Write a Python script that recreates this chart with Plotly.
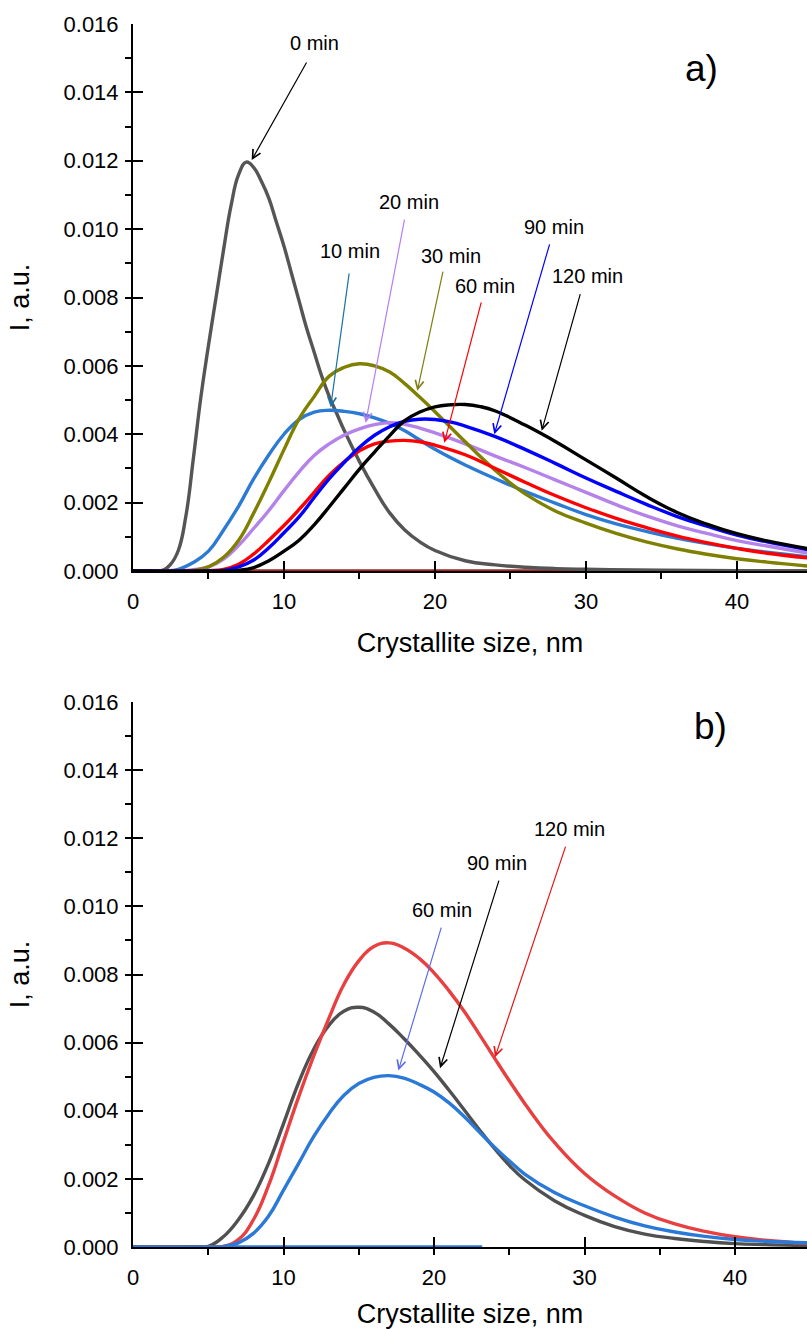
import plotly.graph_objects as go

# ---------------- data: panel a) ----------------
x_a0 = [0, 1, 2, 2.5, 3, 3.5, 4, 4.5, 5, 5.5, 6, 6.5, 7, 7.5, 8, 8.5, 9, 9.5, 10, 10.5, 11, 11.5, 12, 12.5, 13,
        13.5, 14, 15, 16, 17, 18, 19, 20, 22, 24, 26, 28, 30, 35, 40, 45]
y_a0 = [0, 0, 0.00003, 0.0002, 0.0006, 0.0016, 0.0033, 0.0051, 0.0066, 0.0080, 0.0094, 0.0107, 0.0116, 0.01196,
        0.0118, 0.0114, 0.0109, 0.0102, 0.0095, 0.0087, 0.0079, 0.0071, 0.0064, 0.0057, 0.0051,
        0.0046, 0.0041, 0.0032, 0.0024, 0.0017, 0.0012, 0.00085, 0.0006, 0.0003, 0.00018, 0.00011, 0.00007,
        0.00005, 0.00002, 0.00001, 0]

x_a10 = [0, 2, 3, 4, 5, 6, 7, 8, 9, 10, 11, 12, 13, 14, 15, 16, 17, 18, 19, 20, 22, 24, 26, 28, 30, 32, 34, 36,
         38, 40, 42, 45]
y_a10 = [0, 0, 0.00005, 0.00025, 0.00058, 0.0012, 0.0019, 0.0027, 0.0034, 0.0040, 0.00443, 0.00465, 0.0047,
         0.00467, 0.0046, 0.00448, 0.00432, 0.0041, 0.00383, 0.00356, 0.0031, 0.0027, 0.00232, 0.00198,
         0.00165, 0.00138, 0.00116, 0.00096, 0.0008, 0.00066, 0.00055, 0.0004]

x_a20 = [0, 3, 4, 5, 6, 7, 8, 9, 10, 11, 12, 13, 14, 15, 16, 17, 18, 19, 20, 22, 24, 26, 28, 30, 32, 34, 36, 38,
         40, 42, 45]
y_a20 = [0, 0, 0.00004, 0.00012, 0.00035, 0.00075, 0.00125, 0.00177, 0.00235, 0.0029, 0.00338, 0.00372,
         0.00398, 0.00416, 0.00428, 0.00434, 0.00429, 0.00418, 0.00404, 0.00372, 0.00336, 0.00302, 0.00266,
         0.0023, 0.00194, 0.00161, 0.00133, 0.0011, 0.00089, 0.00073, 0.0005]

x_a30 = [0, 3, 4, 5, 6, 7, 8, 9, 10, 11, 12, 13, 14, 15, 16, 17, 18, 19, 20, 21, 22, 23, 24, 25, 26, 28, 30, 32,
         34, 36, 38, 40, 42, 45]
y_a30 = [0, 0, 0.00002, 0.00012, 0.0004, 0.0009, 0.0017, 0.0026, 0.00355, 0.00445, 0.0051, 0.0057, 0.00596,
         0.00606, 0.006, 0.00582, 0.00548, 0.00508, 0.00466, 0.00422, 0.00378, 0.00335, 0.00294, 0.00257,
         0.00225, 0.00175, 0.0014, 0.0011, 0.00085, 0.00065, 0.00049, 0.00036, 0.00026, 0.00013]

x_a60 = [0, 4, 5, 6, 7, 8, 9, 10, 11, 12, 13, 14, 15, 16, 17, 18, 19, 20, 22, 24, 26, 28, 30, 32, 34, 36, 38, 40,
         42, 45]
y_a60 = [0, 0, 0.00001, 0.00005, 0.0002, 0.0005, 0.0009, 0.00133, 0.0018, 0.0023, 0.0028, 0.0032, 0.00352,
         0.00372, 0.0038, 0.00382, 0.00378, 0.00368, 0.0034, 0.003, 0.00259, 0.0022, 0.00185, 0.00154,
         0.00127, 0.00103, 0.00083, 0.00066, 0.00052, 0.00037]

x_a90 = [0, 5, 6, 7, 8, 9, 10, 11, 12, 13, 14, 15, 16, 17, 18, 19, 20, 21, 22, 24, 26, 28, 30, 32, 34, 36, 38,
         40, 42, 45]
y_a90 = [0, 0, 0.00002, 0.00012, 0.00032, 0.00068, 0.00112, 0.00158, 0.00215, 0.0027, 0.00318, 0.00362,
         0.00397, 0.00422, 0.00438, 0.00444, 0.00443, 0.00436, 0.00424, 0.00393, 0.00355, 0.00314, 0.00272,
         0.00233, 0.00195, 0.0016, 0.00131, 0.00105, 0.00085, 0.0006]

x_a120 = [0, 6, 7, 8, 9, 10, 11, 12, 13, 14, 15, 16, 17, 18, 19, 20, 21, 22, 23, 24, 26, 28, 30, 32, 34, 36, 38,
          40, 42, 45]
y_a120 = [0, 0, 0.00002, 0.0001, 0.0003, 0.00058, 0.0009, 0.00135, 0.00188, 0.00243, 0.00298, 0.00348,
          0.00396, 0.0044, 0.00465, 0.0048, 0.00486, 0.00487, 0.00481, 0.00468, 0.00426, 0.00378, 0.00325,
          0.00272, 0.00218, 0.00172, 0.00137, 0.00109, 0.00088, 0.00063]

x_a_base = [0.7, 45]
y_a_base = [0, 0]

# ---------------- data: panel b) ----------------
x_b60 = [0, 5, 6, 7, 8, 9, 10, 11, 12, 13, 14, 15, 16, 17, 18, 19, 20, 21, 22, 23, 24, 25, 26, 28, 30, 32, 34,
         36, 38, 40, 42, 45]
y_b60 = [0, 0, 0.00001, 0.00012, 0.0004, 0.0009, 0.00167, 0.00245, 0.00324, 0.0039, 0.00445, 0.0048, 0.00498,
         0.00503, 0.00496, 0.00478, 0.00455, 0.00423, 0.00383, 0.00338, 0.00294, 0.00253, 0.00215, 0.0016,
         0.00121, 0.00088, 0.00062, 0.00044, 0.00031, 0.00022, 0.00017, 0.00012]

x_b90 = [0, 4, 5, 6, 7, 8, 9, 10, 11, 12, 13, 14, 15, 16, 17, 18, 19, 20, 21, 22, 23, 24, 25, 26, 28, 30, 32, 34,
         36, 38, 40, 42, 45]
y_b90 = [0, 0, 0.00002, 0.0003, 0.0008, 0.0015, 0.00245, 0.00362, 0.00482, 0.0058, 0.0065, 0.00692, 0.00704,
         0.0069, 0.00655, 0.00612, 0.00565, 0.00515, 0.0046, 0.00403, 0.00345, 0.0029, 0.0024, 0.00198, 0.00136,
         0.00093, 0.0006, 0.00038, 0.00025, 0.00016, 0.0001, 0.00007, 0.00004]

x_b120 = [0, 5, 6, 7, 8, 9, 10, 11, 12, 13, 14, 15, 16, 17, 18, 19, 20, 21, 22, 23, 24, 25, 26, 27, 28, 30, 32,
          34, 36, 38, 40, 42, 45]
y_b120 = [0, 0, 0.00002, 0.00022, 0.0008, 0.0018, 0.0031, 0.0044, 0.0056, 0.0067, 0.0077, 0.0084, 0.00882,
          0.00893, 0.00878, 0.00848, 0.00805, 0.00752, 0.00692, 0.00625, 0.00556, 0.00488, 0.00423, 0.00362,
          0.00307, 0.00216, 0.0015, 0.001, 0.00068, 0.00046, 0.0003, 0.0002, 0.0001]

x_b_base = [0, 23.2]
y_b_base = [0, 0]

# ---------------- labels (text position, arrow tail, arrow head) ----------------
labels_a = ["0 min", "10 min", "20 min", "30 min", "60 min", "90 min", "120 min"]
label_pos_a = [(12.03, 0.01543), (14.37, 0.00935), (18.28, 0.0108), (21.05, 0.00922), (23.3, 0.00834),
               (27.9, 0.01005), (30.1, 0.00863)]
arrow_tail_a = [(11.55, 0.01492), (14.33, 0.00875), (18.0, 0.01032), (20.55, 0.0088), (23.09, 0.0079),
                (27.62, 0.0096), (29.65, 0.00814)]
arrow_head_a = [(7.86, 0.01202), (13.09, 0.00479), (15.41, 0.00434), (18.83, 0.00527), (20.62, 0.00375),
                (23.93, 0.0040), (27.07, 0.0041)]
arrow_color_a = ["#000000", "#1b72a6", "#b47ff0", "#7d7d10", "#ff0000", "#0000ff", "#000000"]

labels_b = ["60 min", "90 min", "120 min"]
label_pos_b = [(20.56, 0.00988), (24.2, 0.01128), (29.02, 0.01226)]
arrow_tail_b = [(20.51, 0.00942), (24.34, 0.0108), (28.77, 0.0118)]
arrow_head_b = [(17.63, 0.00518), (20.4, 0.00525), (24.05, 0.00557)]
arrow_color_b = ["#5a6de8", "#000000", "#e81515"]

x_ticks = [0, 10, 20, 30, 40]
x_tick_text = ["0", "10", "20", "30", "40"]
y_ticks = [0.000, 0.002, 0.004, 0.006, 0.008, 0.010, 0.012, 0.014, 0.016]
y_tick_text = ["0.000", "0.002", "0.004", "0.006", "0.008", "0.010", "0.012", "0.014", "0.016"]

FONT = "Arial, Liberation Sans, sans-serif"

fig = go.Figure()

series_a = [
    (x_a_base, y_a_base, "#a32525"),
    (x_a0, y_a0, "#555555"),
    (x_a10, y_a10, "#2b7bd4"),
    (x_a20, y_a20, "#b482e8"),
    (x_a30, y_a30, "#808000"),
    (x_a60, y_a60, "#ff0000"),
    (x_a90, y_a90, "#0000ff"),
    (x_a120, y_a120, "#000000"),
]
for xs, ys, c in series_a:
    fig.add_trace(go.Scatter(x=xs, y=ys, mode="lines", line=dict(color=c, width=3.4, shape="spline", smoothing=1.3),
                             xaxis="x", yaxis="y", showlegend=False, hoverinfo="skip"))

series_b = [
    (x_b_base, y_b_base, "#2a78d8"),
    (x_b90, y_b90, "#505050"),
    (x_b120, y_b120, "#e84040"),
    (x_b60, y_b60, "#2a78d8"),
]
for xs, ys, c in series_b:
    fig.add_trace(go.Scatter(x=xs, y=ys, mode="lines", line=dict(color=c, width=3.4, shape="spline", smoothing=1.3),
                             xaxis="x2", yaxis="y2", showlegend=False, hoverinfo="skip"))

annotations = []


def add_labels(labels, pos, tails, heads, colors, xr, yr):
    for t, p, tl, hd, c in zip(labels, pos, tails, heads, colors):
        annotations.append(dict(x=hd[0], y=hd[1], ax=tl[0], ay=tl[1], xref=xr, yref=yr, axref=xr, ayref=yr,
                                text="", showarrow=True, arrowhead=5, arrowsize=1.4, arrowwidth=1.2,
                                arrowcolor=c))
        annotations.append(dict(x=p[0], y=p[1], xref=xr, yref=yr, text=t, showarrow=False,
                                xanchor="center", yanchor="middle",
                                font=dict(family=FONT, size=20, color="black")))


add_labels(labels_a, label_pos_a, arrow_tail_a, arrow_head_a, arrow_color_a, "x", "y")
add_labels(labels_b, label_pos_b, arrow_tail_b, arrow_head_b, arrow_color_b, "x2", "y2")

annotations.append(dict(x=37.64, y=0.01471, xref="x", yref="y", text="a)", showarrow=False,
                        font=dict(family=FONT, size=37, color="black")))
annotations.append(dict(x=38.34, y=0.01527, xref="x2", yref="y2", text="b)", showarrow=False,
                        font=dict(family=FONT, size=37, color="black")))

xaxis_common = dict(
    tickvals=x_ticks, ticktext=x_tick_text, ticks="inside", ticklen=10, tickwidth=2, tickcolor="black",
    minor=dict(dtick=5, tick0=0, ticks="outside", ticklen=6, tickwidth=2, tickcolor="black"),
    showline=True, linewidth=2, linecolor="black", showgrid=False, zeroline=False,
    tickfont=dict(family=FONT, size=22, color="black"), ticklabelstandoff=10,
    title=dict(text="Crystallite size, nm", font=dict(family=FONT, size=27, color="black"), standoff=20),
)
yaxis_common = dict(
    range=[0, 0.016], tickvals=y_ticks, ticktext=y_tick_text, ticks="inside", ticklen=10, tickwidth=2,
    tickcolor="black",
    minor=dict(dtick=0.001, tick0=0, ticks="outside", ticklen=6, tickwidth=2, tickcolor="black"),
    showline=True, linewidth=2, linecolor="black", showgrid=False, zeroline=False,
    tickfont=dict(family=FONT, size=22, color="black"), ticklabelstandoff=8,
    title=dict(text="I, a.u.", font=dict(family=FONT, size=27, color="black"), standoff=26),
)

fig.update_layout(
    width=807, height=1329,
    margin=dict(l=133, r=0, t=24, b=82),
    paper_bgcolor="white", plot_bgcolor="white",
    showlegend=False,
    xaxis=dict(domain=[0, 1], anchor="y", range=[0, 44.64], **xaxis_common),
    yaxis=dict(domain=[0.55274, 1], anchor="x", **yaxis_common),
    xaxis2=dict(domain=[0, 1], anchor="y2", range=[0, 44.78], **xaxis_common),
    yaxis2=dict(domain=[0, 0.44562], anchor="x2", **yaxis_common),
    annotations=annotations,
)

fig.write_html("out.html")
